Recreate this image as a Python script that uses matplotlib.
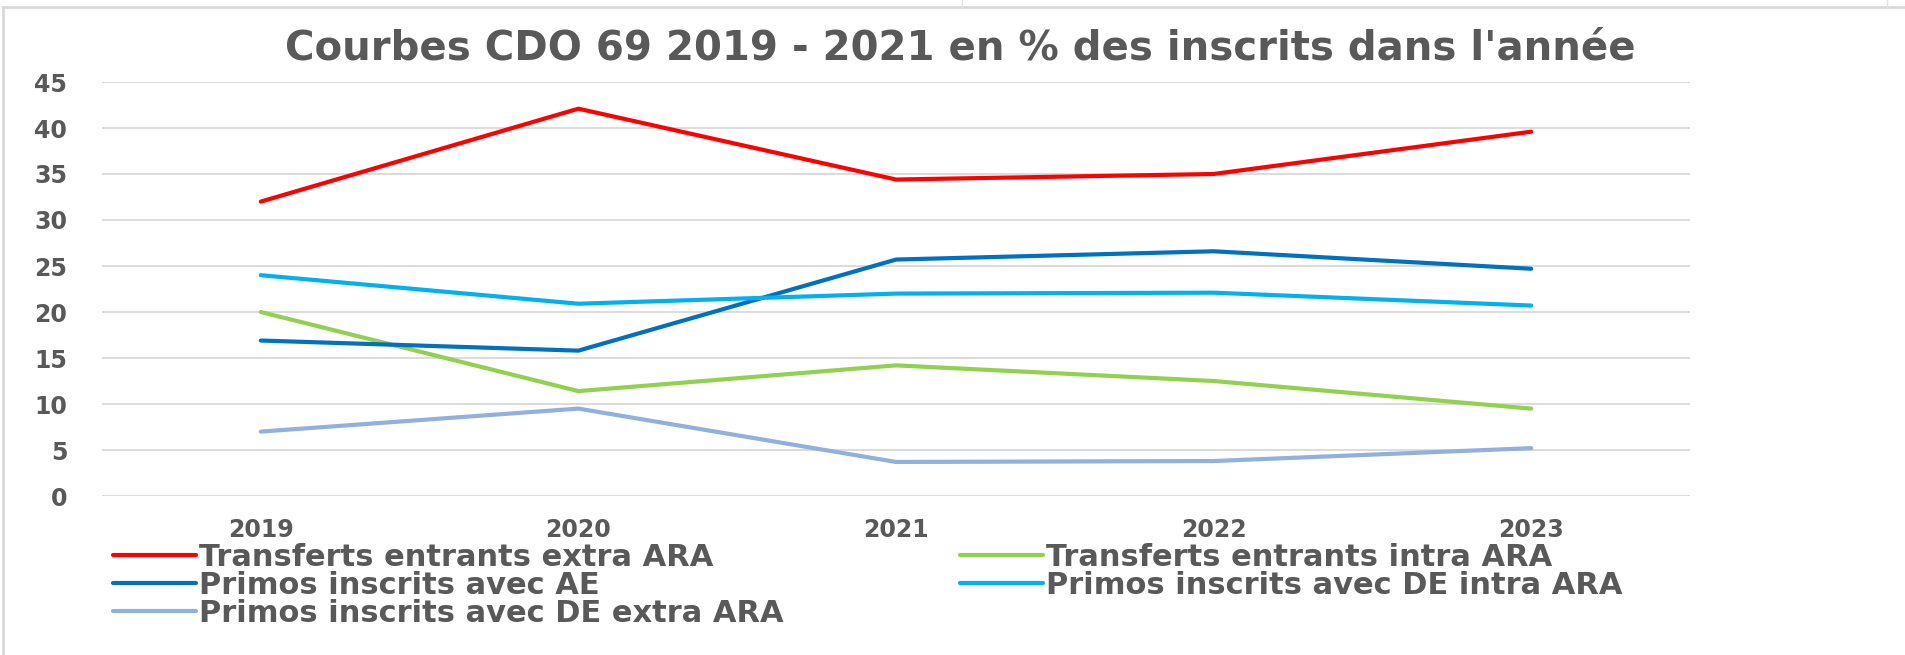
import matplotlib
matplotlib.use('Agg')
import matplotlib.pyplot as plt
from matplotlib.lines import Line2D

years = ['2019', '2020', '2021', '2022', '2023']

transferts_extra = [32.0, 42.1, 34.4, 35.0, 39.6]
transferts_intra = [20.0, 11.4, 14.2, 12.5, 9.5]
primos_ae = [16.9, 15.8, 25.7, 26.6, 24.7]
primos_de_intra = [24.0, 20.9, 22.0, 22.1, 20.7]
primos_de_extra = [7.0, 9.5, 3.7, 3.8, 5.2]

series = [
    ('Transferts entrants extra ARA', transferts_extra, '#FF0000'),
    ('Transferts entrants intra ARA', transferts_intra, '#92D050'),
    ('Primos inscrits avec AE', primos_ae, '#0070C0'),
    ('Primos inscrits avec DE intra ARA', primos_de_intra, '#00B0F0'),
    ('Primos inscrits avec DE extra ARA', primos_de_extra, '#91B0DD'),
]

plt.rcParams['font.family'] = ['DejaVu Sans']
gray = '#595959'

W, H = 1905, 655
fig = plt.figure(figsize=(W / 100, H / 100), dpi=100)
ax = fig.add_axes([102 / W, 1 - 496 / H, (1690 - 102) / W, (496 - 82) / H])

x = list(range(len(years)))
lines = {}
for name, vals, col in series:
    ln, = ax.plot(x, vals, color=col, lw=3.0, solid_capstyle='round', solid_joinstyle='round')
    lines[name] = ln

ax.set_xlim(-0.5, len(years) - 0.5)
ax.set_ylim(0, 45)
ax.set_yticks(range(0, 46, 5))
ax.set_xticks(x)
ax.set_xticklabels(years)
ax.grid(axis='y', color='#D9D9D9', lw=1.3)
ax.set_axisbelow(True)
for s in ax.spines.values():
    s.set_visible(False)
ax.tick_params(length=0, labelcolor=gray, labelsize=17)
ax.tick_params(axis='y', pad=25)
ax.tick_params(axis='x', pad=16)
for lab in ax.get_xticklabels() + ax.get_yticklabels():
    lab.set_fontweight('bold')

fig.text(960 / W, 1 - 48 / H, "Courbes CDO 69 2019 - 2021 en % des inscrits dans l'année",
         ha='center', va='center', fontsize=29, fontweight='bold', color=gray)

leg_kw = dict(loc='upper left', frameon=False, borderpad=0, borderaxespad=0,
              handlelength=2.7, handletextpad=0.12, labelspacing=-0.03,
              prop={'size': 22, 'weight': 'bold'}, labelcolor=gray,
              bbox_transform=fig.transFigure)
col1 = ['Transferts entrants extra ARA', 'Primos inscrits avec AE', 'Primos inscrits avec DE extra ARA']
col2 = ['Transferts entrants intra ARA', 'Primos inscrits avec DE intra ARA']
fig.legend([lines[n] for n in col1], col1, bbox_to_anchor=(113 / W, 1 - 543 / H), **leg_kw)
fig.legend([lines[n] for n in col2], col2, bbox_to_anchor=(960 / W, 1 - 543 / H), **leg_kw)

# chart frame and spreadsheet cell lines behind it
frame = '#D9D9D9'
fig.add_artist(Line2D([3 / W, 3 / W], [0, 1 - 7 / H], color=frame, lw=2))
fig.add_artist(Line2D([3 / W, 1], [1 - 7 / H, 1 - 7 / H], color=frame, lw=2))
fig.add_artist(Line2D([962 / W, 962 / W], [1 - 7 / H, 1], color='#E3E3E3', lw=1))
fig.add_artist(Line2D([1887 / W, 1887 / W], [1 - 7 / H, 1], color='#E3E3E3', lw=1))

fig.savefig('out.png', dpi=100)
